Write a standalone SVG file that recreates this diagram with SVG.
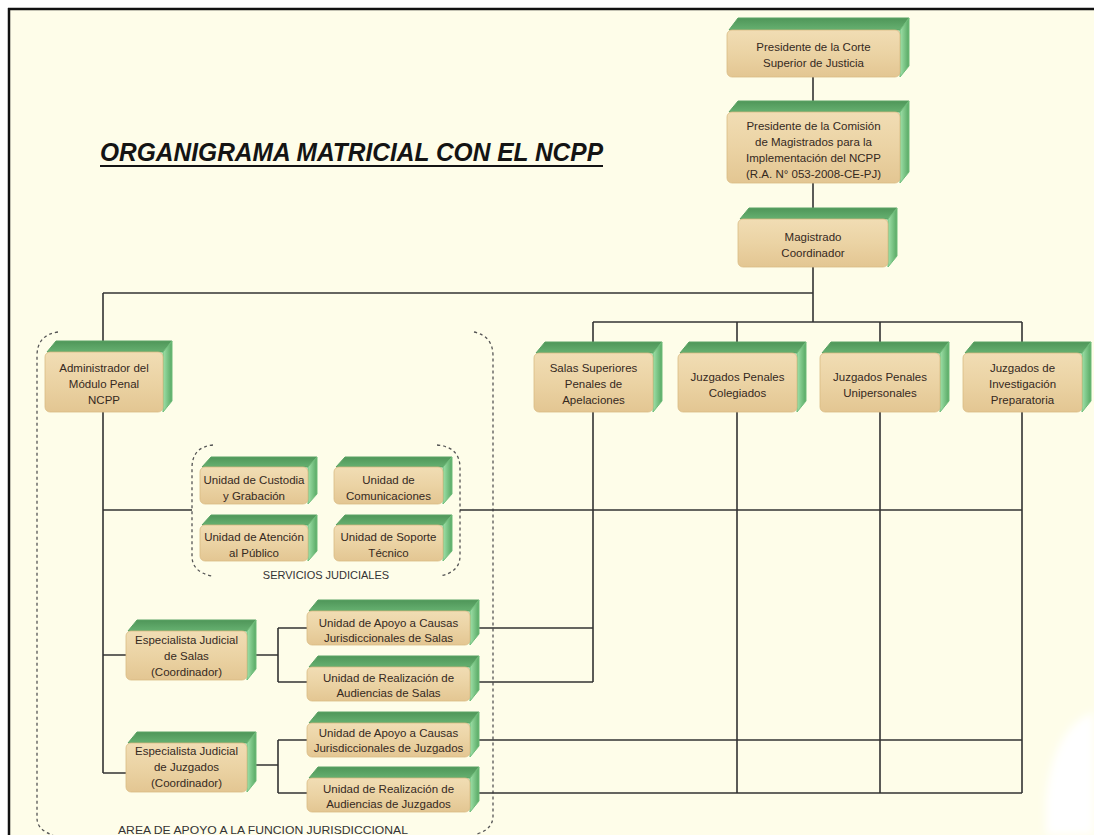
<svg xmlns="http://www.w3.org/2000/svg" width="1094" height="835" viewBox="0 0 1094 835">
<defs>
<linearGradient id="gFront" x1="0" y1="0" x2="0" y2="1">
<stop offset="0" stop-color="#f1ddb4"/>
<stop offset="0.5" stop-color="#ebd3a4"/>
<stop offset="1" stop-color="#e3c692"/>
</linearGradient>
<linearGradient id="gTop" x1="0" y1="0" x2="0" y2="1">
<stop offset="0" stop-color="#4f9659"/>
<stop offset="1" stop-color="#66b070"/>
</linearGradient>
<linearGradient id="gSide" x1="0" y1="0" x2="1" y2="0">
<stop offset="0" stop-color="#9fe0a8"/>
<stop offset="1" stop-color="#58a964"/>
</linearGradient>
<filter id="soft" x="-20%" y="-20%" width="140%" height="140%"><feGaussianBlur stdDeviation="4"/></filter>
</defs>
<style>
.top{fill:url(#gTop);stroke:#5aa364;stroke-width:1;stroke-linejoin:round}
.side{fill:url(#gSide);stroke:#6fbd7a;stroke-width:1;stroke-linejoin:round}
.front{fill:url(#gFront);stroke:#d9bb84;stroke-width:0.8}
.t{font-family:"Liberation Sans",Arial,sans-serif;font-size:11.5px;fill:#35291e;text-anchor:middle}
.lbl{font-family:"Liberation Sans",Arial,sans-serif;font-size:11px;fill:#333;text-anchor:middle}
.ln{stroke:#333;stroke-width:1.6;fill:none}
.dash{stroke:#555;stroke-width:1.3;fill:none;stroke-dasharray:3 3}
</style>
<rect x="0" y="0" width="1094" height="835" fill="#ffffff"/>
<rect x="9" y="9" width="1085" height="826" fill="#fefde9"/>
<path d="M1094,712 C1066,722 1050,752 1046,800 L1046,835 L1094,835 Z" fill="#ffffff" filter="url(#soft)"/>
<line x1="8" y1="9" x2="1094" y2="9" stroke="#111" stroke-width="2.5"/>
<line x1="9" y1="8" x2="9" y2="835" stroke="#111" stroke-width="2.5"/>

<g id="title">
<text x="100" y="161" font-family="'Liberation Sans',Arial,sans-serif" font-size="26" font-weight="bold" font-style="italic" fill="#141414" textLength="503" lengthAdjust="spacingAndGlyphs">ORGANIGRAMA MATRICIAL CON EL NCPP</text>
<line x1="100" y1="166" x2="603" y2="166" stroke="#141414" stroke-width="2.2"/>
</g>

<g id="groups">
<path class="dash" d="M58,332 Q37,335 37,356 L37,818 Q37,830 53,835"/>
<path class="dash" d="M474,332 Q493,336 493,356 L493,816 Q493,829 477,834"/>
<path class="dash" d="M213,445 Q192,447 192,468 L192,556 Q192,572 212,576"/>
<path class="dash" d="M437,445 Q460,447 460,468 L460,556 Q460,572 440,576"/>
<text class="lbl" x="326" y="579">SERVICIOS JUDICIALES</text>
<text class="lbl" x="263" y="834" textLength="290" lengthAdjust="spacingAndGlyphs">AREA DE APOYO A LA FUNCION JURISDICCIONAL</text>
</g>

<g id="connectors">
<path class="ln" d="M813,77 V102 M813,183 V208 M813,267 V322"/>
<path class="ln" d="M103,293 H813"/>
<path class="ln" d="M593,322 H1022"/>
<path class="ln" d="M593,322 V342 M737,322 V342 M880,322 V342 M1022,322 V342"/>
<path class="ln" d="M103,293 V341 M103,412 V773"/>
<path class="ln" d="M103,510 H192 M460,510 H1022"/>
<path class="ln" d="M593,412 V682 M737,412 V793 M880,412 V793 M1022,412 V793"/>
<path class="ln" d="M103,655 H126 M103,773 H126"/>
<path class="ln" d="M256,655 H278 M278,628 V682 M278,628 H307 M278,682 H307"/>
<path class="ln" d="M256,765 H278 M278,740 V793 M278,740 H307 M278,793 H307"/>
<path class="ln" d="M479,628 H593 M479,682 H593 M479,740 H1022 M479,793 H1022"/>
</g>

<g id="n-presidente-corte">
<path class="top" d="M729,30 L738,18 L909,18 L900,30 Z"/>
<path class="side" d="M900,30 L909,18 L909,66 L900,77 Z"/>
<rect class="front" x="727" y="30" width="173" height="47" rx="5"/>
<text class="t" x="813.5" y="51">Presidente de la Corte</text>
<text class="t" x="813.5" y="67">Superior de Justicia</text>
</g>

<g id="n-presidente-comision">
<path class="top" d="M729,112 L738,101 L909,101 L900,112 Z"/>
<path class="side" d="M900,112 L909,101 L909,172 L900,183 Z"/>
<rect class="front" x="727" y="112" width="173" height="71" rx="5"/>
<text class="t" x="813.5" y="130">Presidente de la Comisión</text>
<text class="t" x="813.5" y="146">de Magistrados para la</text>
<text class="t" x="813.5" y="162">Implementación del NCPP</text>
<text class="t" x="813.5" y="178">(R.A. N° 053-2008-CE-PJ)</text>
</g>

<g id="n-magistrado">
<path class="top" d="M740,219 L749,208 L897,208 L888,219 Z"/>
<path class="side" d="M888,219 L897,208 L897,256 L888,267 Z"/>
<rect class="front" x="738" y="219" width="150" height="48" rx="5"/>
<text class="t" x="813" y="241">Magistrado</text>
<text class="t" x="813" y="257">Coordinador</text>
</g>

<g id="n-salas-superiores">
<path class="top" d="M536,353 L545,342 L662,342 L653,353 Z"/>
<path class="side" d="M653,353 L662,342 L662,401 L653,412 Z"/>
<rect class="front" x="534" y="353" width="119" height="59" rx="5"/>
<text class="t" x="593.5" y="372">Salas Superiores</text>
<text class="t" x="593.5" y="388">Penales de</text>
<text class="t" x="593.5" y="404">Apelaciones</text>
</g>

<g id="n-colegiados">
<path class="top" d="M680,353 L689,342 L806,342 L797,353 Z"/>
<path class="side" d="M797,353 L806,342 L806,401 L797,412 Z"/>
<rect class="front" x="678" y="353" width="119" height="59" rx="5"/>
<text class="t" x="737.5" y="381">Juzgados Penales</text>
<text class="t" x="737.5" y="397">Colegiados</text>
</g>

<g id="n-unipersonales">
<path class="top" d="M822,353 L831,342 L949,342 L940,353 Z"/>
<path class="side" d="M940,353 L949,342 L949,401 L940,412 Z"/>
<rect class="front" x="820" y="353" width="120" height="59" rx="5"/>
<text class="t" x="880" y="381">Juzgados Penales</text>
<text class="t" x="880" y="397">Unipersonales</text>
</g>

<g id="n-investigacion">
<path class="top" d="M965,353 L974,342 L1091,342 L1082,353 Z"/>
<path class="side" d="M1082,353 L1091,342 L1091,401 L1082,412 Z"/>
<rect class="front" x="963" y="353" width="119" height="59" rx="5"/>
<text class="t" x="1022.5" y="372">Juzgados de</text>
<text class="t" x="1022.5" y="388">Investigación</text>
<text class="t" x="1022.5" y="404">Preparatoria</text>
</g>

<g id="n-administrador">
<path class="top" d="M47,352 L56,341 L172,341 L163,352 Z"/>
<path class="side" d="M163,352 L172,341 L172,401 L163,412 Z"/>
<rect class="front" x="45" y="352" width="118" height="60" rx="5"/>
<text class="t" x="104" y="372">Administrador del</text>
<text class="t" x="104" y="388">Módulo Penal</text>
<text class="t" x="104" y="404">NCPP</text>
</g>

<g id="n-custodia">
<path class="top" d="M202,467 L211,457 L317,457 L308,467 Z"/>
<path class="side" d="M308,467 L317,457 L317,494 L308,504 Z"/>
<rect class="front" x="200" y="467" width="108" height="37" rx="5"/>
<text class="t" x="254" y="484">Unidad de Custodia</text>
<text class="t" x="254" y="500">y Grabación</text>
</g>

<g id="n-comunicaciones">
<path class="top" d="M336,467 L345,457 L452,457 L443,467 Z"/>
<path class="side" d="M443,467 L452,457 L452,494 L443,504 Z"/>
<rect class="front" x="334" y="467" width="109" height="37" rx="5"/>
<text class="t" x="388.5" y="484">Unidad de</text>
<text class="t" x="388.5" y="500">Comunicaciones</text>
</g>

<g id="n-atencion">
<path class="top" d="M202,525 L211,515 L317,515 L308,525 Z"/>
<path class="side" d="M308,525 L317,515 L317,551 L308,561 Z"/>
<rect class="front" x="200" y="525" width="108" height="36" rx="5"/>
<text class="t" x="254" y="541">Unidad de Atención</text>
<text class="t" x="254" y="557">al Público</text>
</g>

<g id="n-soporte">
<path class="top" d="M336,525 L345,515 L452,515 L443,525 Z"/>
<path class="side" d="M443,525 L452,515 L452,551 L443,561 Z"/>
<rect class="front" x="334" y="525" width="109" height="36" rx="5"/>
<text class="t" x="388.5" y="541">Unidad de Soporte</text>
<text class="t" x="388.5" y="557">Técnico</text>
</g>

<g id="n-especialista-salas">
<path class="top" d="M128,631 L137,620 L256,620 L247,631 Z"/>
<path class="side" d="M247,631 L256,620 L256,669 L247,680 Z"/>
<rect class="front" x="126" y="631" width="121" height="49" rx="5"/>
<text class="t" x="186.5" y="644">Especialista Judicial</text>
<text class="t" x="186.5" y="660">de Salas</text>
<text class="t" x="186.5" y="676">(Coordinador)</text>
</g>

<g id="n-apoyo-salas">
<path class="top" d="M309,611 L318,600 L479,600 L470,611 Z"/>
<path class="side" d="M470,611 L479,600 L479,634 L470,645 Z"/>
<rect class="front" x="307" y="611" width="163" height="34" rx="5"/>
<text class="t" x="388.5" y="627">Unidad de Apoyo a Causas</text>
<text class="t" x="388.5" y="642">Jurisdiccionales de Salas</text>
</g>

<g id="n-realizacion-salas">
<path class="top" d="M309,667 L318,656 L479,656 L470,667 Z"/>
<path class="side" d="M470,667 L479,656 L479,690 L470,701 Z"/>
<rect class="front" x="307" y="667" width="163" height="34" rx="5"/>
<text class="t" x="388.5" y="682">Unidad de Realización de</text>
<text class="t" x="388.5" y="697">Audiencias de Salas</text>
</g>

<g id="n-especialista-juzgados">
<path class="top" d="M128,743 L137,732 L256,732 L247,743 Z"/>
<path class="side" d="M247,743 L256,732 L256,781 L247,792 Z"/>
<rect class="front" x="126" y="743" width="121" height="49" rx="5"/>
<text class="t" x="186.5" y="755">Especialista Judicial</text>
<text class="t" x="186.5" y="771">de Juzgados</text>
<text class="t" x="186.5" y="787">(Coordinador)</text>
</g>

<g id="n-apoyo-juzgados">
<path class="top" d="M309,723 L318,712 L479,712 L470,723 Z"/>
<path class="side" d="M470,723 L479,712 L479,746 L470,757 Z"/>
<rect class="front" x="307" y="723" width="163" height="34" rx="5"/>
<text class="t" x="388.5" y="737">Unidad de Apoyo a Causas</text>
<text class="t" x="388.5" y="752">Jurisdiccionales de Juzgados</text>
</g>

<g id="n-realizacion-juzgados">
<path class="top" d="M309,778 L318,767 L479,767 L470,778 Z"/>
<path class="side" d="M470,778 L479,767 L479,801 L470,812 Z"/>
<rect class="front" x="307" y="778" width="163" height="34" rx="5"/>
<text class="t" x="388.5" y="793">Unidad de Realización de</text>
<text class="t" x="388.5" y="808">Audiencias de Juzgados</text>
</g>
</svg>
